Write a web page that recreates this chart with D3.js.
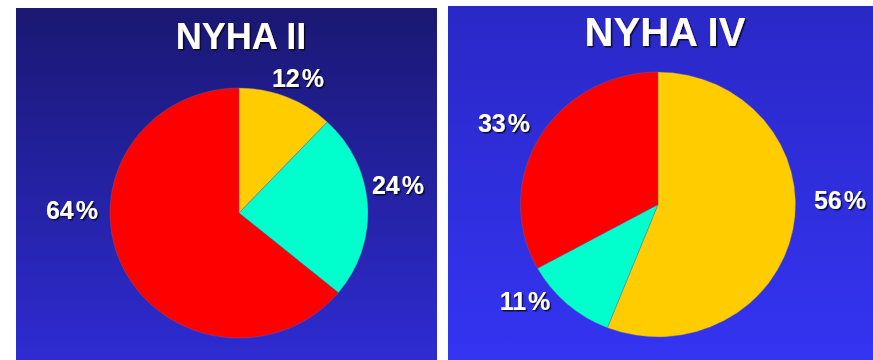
<!DOCTYPE html>
<html>
<head>
<meta charset="utf-8">
<script src="https://cdn.jsdelivr.net/npm/d3@7"></script>
<style>
  html, body { margin: 0; padding: 0; background: #ffffff; }
  svg { display: block; }
  text { font-family: "Liberation Sans", Arial, sans-serif; font-weight: bold; fill: #ffffff; }
</style>
</head>
<body>
<svg id="chart" width="873" height="360"></svg>
<script>
// Share of patients per group, for each NYHA class
const titles = ["NYHA II", "NYHA IV"];
const groups = ["yellow", "cyan", "red"];
const nyhaII = [12, 24, 64];
const nyhaIV = [56, 11, 33];
const sliceColors = ["#ffcc00", "#00ffcc", "#ff0000"];

const panels = [
  { title: titles[0], values: nyhaII, x: 16, y: 8, w: 421, h: 352,
    top: "#1a1872", bottom: "#2e2bd2",
    cx: 239, cy: 213, r: 125, sx: 1.032, titleY: 49, titleSize: 36, titleX: 241,
    labels: [[298, 87], [398, 194], [72, 219]] },
  { title: titles[1], values: nyhaIV, x: 448, y: 6, w: 425, h: 354,
    top: "#2a28c6", bottom: "#3434f2",
    cx: 658, cy: 204.5, r: 132.5, sx: 1.038, titleY: 46, titleSize: 40, titleX: 665,
    labels: [[840, 209], [525, 310], [504, 132]] }
];

const svg = d3.select("#chart");
const defs = svg.append("defs");

const shadow = defs.append("filter").attr("id", "shadow")
  .attr("x", "-20%").attr("y", "-20%").attr("width", "140%").attr("height", "140%");
shadow.append("feDropShadow")
  .attr("dx", 1.5).attr("dy", 1.5).attr("stdDeviation", 0.6)
  .attr("flood-color", "#000000").attr("flood-opacity", 0.75);

const pie = d3.pie().sort(null).value(d => d);

panels.forEach((p, i) => {
  const grad = defs.append("linearGradient").attr("id", "bg" + i)
    .attr("x1", 0).attr("y1", 0).attr("x2", 0).attr("y2", 1);
  grad.append("stop").attr("offset", "0%").attr("stop-color", p.top);
  grad.append("stop").attr("offset", "100%").attr("stop-color", p.bottom);

  svg.append("rect")
    .attr("x", p.x).attr("y", p.y).attr("width", p.w).attr("height", p.h)
    .attr("fill", `url(#bg${i})`);

  svg.append("text")
    .attr("x", p.titleX).attr("y", p.titleY)
    .attr("text-anchor", "middle")
    .attr("font-size", p.titleSize)
    .attr("filter", "url(#shadow)")
    .text(p.title);

  const arc = d3.arc().innerRadius(0).outerRadius(p.r);
  const g = svg.append("g")
    .attr("transform", `translate(${p.cx},${p.cy}) scale(${p.sx},1)`);

  g.selectAll("path")
    .data(pie(p.values))
    .join("path")
    .attr("d", arc)
    .attr("fill", (d, j) => sliceColors[j])
    .attr("stroke", "#6a6aa8")
    .attr("stroke-width", 0.6)
    .attr("stroke-opacity", 0.6);

  // Percentage labels, with a small gap before the % sign
  const labels = svg.selectAll(null)
    .data(p.values)
    .join("text")
    .attr("x", (d, j) => p.labels[j][0])
    .attr("y", (d, j) => p.labels[j][1])
    .attr("text-anchor", "middle")
    .attr("font-size", 25)
    .attr("filter", "url(#shadow)");
  labels.append("tspan").text(d => d);
  labels.append("tspan").attr("dx", 2).text("%");
});
</script>
</body>
</html>
